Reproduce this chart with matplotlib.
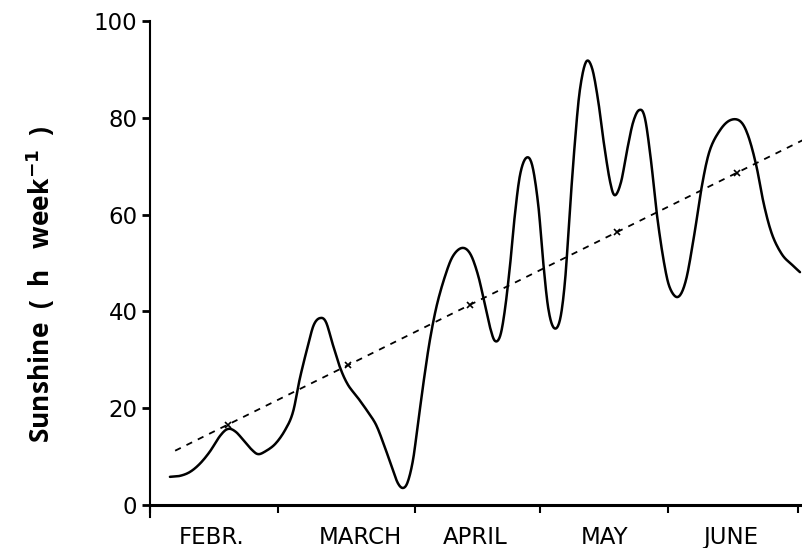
import numpy as np
import matplotlib
matplotlib.use("Agg")
import matplotlib.pyplot as plt

# ---- data (x = days from 1 Feb, y = sunshine h/week) ----
days = [4.6, 6.9, 9.2, 11.5, 13.8, 16.2, 18.0, 19.8, 21.9, 23.5, 24.9, 26.5, 28.9, 31.2,
        33.0, 34.6, 36.5, 37.8, 39.2, 40.6, 42.2, 43.9, 45.7, 48.0, 50.3, 52.2, 54.0, 55.9,
        57.2, 58.4, 59.5, 60.7, 61.8, 63.2, 64.6, 66.2, 68.1, 69.9, 72.0, 73.9, 75.7, 77.3,
        78.5, 79.6, 80.8, 81.9, 83.1, 84.2, 85.4, 86.8, 88.2, 89.6, 90.7, 91.9, 93.2, 94.6,
        95.8, 96.9, 98.1, 99.2, 100.6, 102.0, 103.4, 104.8, 106.2, 107.3, 108.7, 110.1,
        111.5, 112.9, 114.2, 115.6, 117.0, 118.6, 120.0, 121.9, 123.7, 125.6, 127.4, 129.2,
        131.6, 133.9, 136.2, 138.0, 139.9, 141.7, 143.6, 145.9, 148.2, 150.0]
sunshine = [5.8, 6.0, 6.8, 8.5, 11.0, 14.3, 15.7, 15.1, 13.0, 11.4, 10.5, 11.0, 12.6, 15.5,
            19.2, 26.2, 33.1, 37.2, 38.6, 37.8, 33.1, 28.3, 24.8, 22.1, 19.2, 16.5, 12.4, 7.6,
            4.5, 3.5, 4.8, 9.3, 16.5, 25.8, 34.1, 41.3, 47.3, 51.4, 53.1, 51.9, 47.5, 41.3,
            36.6, 33.9, 34.9, 40.3, 49.6, 59.9, 68.2, 71.7, 70.2, 62.0, 50.6, 40.7, 36.6, 38.2,
            46.5, 61.0, 75.4, 85.7, 91.5, 90.3, 83.7, 74.4, 66.7, 64.0, 66.7, 73.3,
            79.1, 81.6, 80.0, 71.3, 59.9, 50.2, 44.8, 43.0, 46.5, 55.8, 66.1, 73.3,
            77.5, 79.5, 79.3, 76.4, 70.2, 62.0, 55.8, 51.7, 49.6, 48.1]

trend_days = [5.8, 150.7]
trend_values = [11.2, 75.4]

mean_days = [18.0, 45.7, 73.9, 107.8, 135.5]
mean_values = [16.6, 28.9, 41.4, 56.4, 68.6]

month_bounds = [0, 29.5, 61.2, 90.0, 119.6, 149.6]
month_labels = ["FEBR.", "MARCH", "APRIL", "MAY", "JUNE"]
yticks = [0, 20, 40, 60, 80, 100]


def smooth_path(x, y, n=12):
    """Catmull-Rom rendering through the read points (drawing only)."""
    p = np.column_stack([x, y]).astype(float)
    p = np.vstack([p[0], p, p[-1]])
    out = []
    t = np.linspace(0, 1, n, endpoint=False)[:, None]
    for i in range(1, len(p) - 2):
        p0, p1, p2, p3 = p[i - 1], p[i], p[i + 1], p[i + 2]
        seg = 0.5 * ((2 * p1) + (-p0 + p2) * t + (2 * p0 - 5 * p1 + 4 * p2 - p3) * t ** 2
                     + (-p0 + 3 * p1 - 3 * p2 + p3) * t ** 3)
        out.append(seg)
    out.append(p[-2][None, :])
    out = np.vstack(out)
    return out[:, 0], out[:, 1]


# ---- figure ----
plt.rcParams['mathtext.default'] = 'bf'
fig = plt.figure(figsize=(8.03, 5.48), dpi=100)
ax = fig.add_axes([150/803, 31/548, 653/803, 496/548])

sx, sy = smooth_path(days, sunshine)
ax.plot(sx, sy, color='black', lw=1.8, solid_capstyle='round', solid_joinstyle='round')
ax.plot(trend_days, trend_values, color='black', lw=1.3, linestyle=(0, (3.5, 3.5)))
ax.plot(mean_days, mean_values, linestyle='none', marker='x', color='black', ms=4, mew=1.2)

ax.set_xlim(0, 150.7)
ax.set_ylim(-2.5, 100)

for s in ['top', 'right']:
    ax.spines[s].set_visible(False)
ax.spines['bottom'].set_position(('data', 0))
ax.spines['bottom'].set_linewidth(2.2)
ax.spines['left'].set_linewidth(1.5)
ax.spines['left'].set_bounds(-2.5, 100)

ax.set_yticks(yticks)
ax.set_yticklabels([str(v) for v in yticks])
ax.tick_params(axis='y', direction='out', length=6, width=2, pad=3, labelsize=16.5)

ax.set_xticks(month_bounds)
ax.set_xticklabels([])
ax.tick_params(axis='x', which='major', direction='out', length=6, width=1.5)
label_shift = [-0.5, 3.2, -0.5, 0.0, -0.5]
centers = [(a + b) / 2 + d for a, b, d in zip(month_bounds[:-1], month_bounds[1:], label_shift)]
ax.set_xticks(centers, minor=True)
ax.set_xticklabels(month_labels, minor=True)
ax.tick_params(axis='x', which='minor', length=0, pad=15, labelsize=16.5)

ax.set_ylabel(r"Sunshine  (  h   week$^{-1}$  )", fontsize=19, fontweight='bold',
              family=['Open Sans', 'DejaVu Sans'])
ax.yaxis.set_label_coords(-0.143, 0.47)

fig.savefig("out.png", dpi=100)
